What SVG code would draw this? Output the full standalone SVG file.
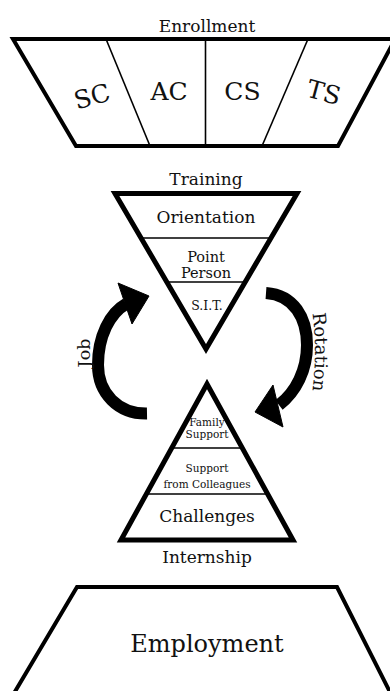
<svg xmlns="http://www.w3.org/2000/svg" width="390" height="691" viewBox="0 0 390 691">
  <style>
    text { font-family: "DejaVu Serif", "Liberation Serif", serif; fill: #111; text-anchor: middle; }
    .frame { fill: none; stroke: #000; stroke-width: 4; stroke-linejoin: miter; }
    .tri { fill: none; stroke: #000; stroke-width: 5; stroke-linejoin: miter; stroke-miterlimit: 10; }
    .div { fill: none; stroke: #000; stroke-width: 1.6; }
    .band { fill: none; stroke: #000; stroke-width: 12; stroke-linecap: butt; }
    .head { fill: #000; stroke: #000; stroke-width: 1; stroke-linejoin: round; }
  </style>
  <defs>
    <path id="rotPath" d="M 310 298 Q 320 352 310 406"/>
  </defs>
  <rect width="390" height="691" fill="#fff"/>

  <!-- Enrollment funnel with four segments -->
  <g id="enrollment">
    <text x="207" y="32" font-size="17">Enrollment</text>
    <polyline class="frame" points="400,39 13,39 76,146 338,146 400,30"/>
    <line class="div" x1="106" y1="39" x2="150" y2="146"/>
    <line class="div" x1="205.5" y1="39" x2="205.5" y2="146"/>
    <line class="div" x1="308" y1="39" x2="262" y2="146"/>
    <text transform="translate(92,96) rotate(-15)" y="9" font-size="25">SC</text>
    <text x="169" y="99.5" font-size="25">AC</text>
    <text x="242.5" y="99.5" font-size="25">CS</text>
    <text transform="translate(324,92) rotate(15)" y="9" font-size="25">TS</text>
  </g>

  <!-- Training: inverted triangle -->
  <g id="training">
    <text x="206" y="185" font-size="17">Training</text>
    <line class="div" x1="140" y1="238" x2="272" y2="238"/>
    <line class="div" x1="166" y1="282" x2="246" y2="282"/>
    <polygon class="tri" points="115,193.5 297,193.5 206,349"/>
    <text x="206" y="223" font-size="17">Orientation</text>
    <text x="206" y="262" font-size="14.5">Point</text>
    <text x="206" y="278" font-size="14.5">Person</text>
    <text x="207" y="310" font-size="12.5">S.I.T.</text>
  </g>

  <!-- Internship: upright triangle -->
  <g id="internship">
    <line class="div" x1="170" y1="448" x2="244" y2="448"/>
    <line class="div" x1="145" y1="494" x2="269" y2="494"/>
    <polygon class="tri" points="207,384 121,540 293,540"/>
    <text x="207" y="426" font-size="10.5">Family</text>
    <text x="207" y="437.5" font-size="10.5">Support</text>
    <text x="207" y="472" font-size="10.5">Support</text>
    <text x="207" y="488" font-size="10.5">from Colleagues</text>
    <text x="207" y="522" font-size="17">Challenges</text>
    <text x="207" y="563" font-size="17">Internship</text>
  </g>

  <!-- Employment base -->
  <g id="employment">
    <polyline class="frame" points="10,700 77,587 337,587 394,700"/>
    <text x="207" y="652" font-size="24">Employment</text>
  </g>

  <!-- Cycle arrows between the triangles -->
  <g id="connectors">
    <g id="job-arrow">
      <path class="band" d="M 147 413.5 C 118 414 98 393 98 365 C 98 336 110 313 126 304"/>
      <polygon class="head" points="118,283 149,296 132,324"/>
      <text transform="translate(90,353) rotate(-90)" font-size="17.5">Job</text>
    </g>
    <g id="rotation-arrow">
      <path class="band" d="M 266 293 C 294 295 307 318 307 345 C 307 370 296 392 279 405"/>
      <polygon class="head" points="273,385 255,412 283,427"/>
      <text font-size="18"><textPath href="#rotPath" startOffset="50%">Rotation</textPath></text>
    </g>
  </g>
</svg>
